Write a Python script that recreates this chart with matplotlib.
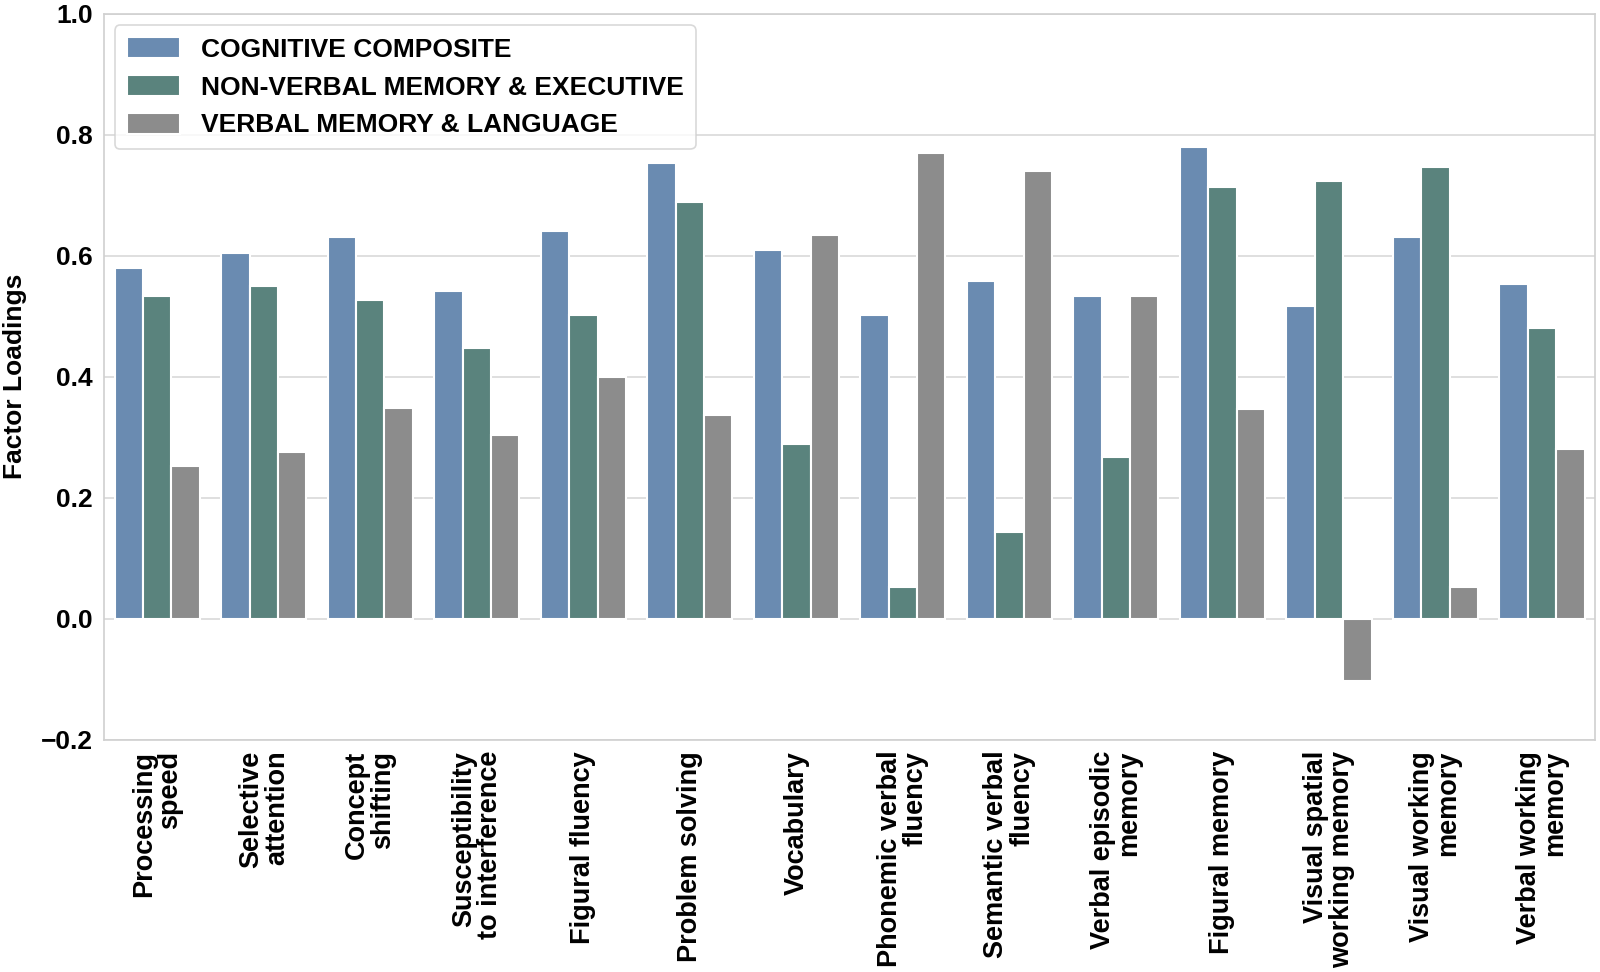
import numpy as np
import matplotlib
matplotlib.use('Agg')
import matplotlib.pyplot as plt

# 数据
categories = ['Processing\nspeed', 'Selective\nattention', 'Concept\nshifting',
              'Susceptibility\nto interference', 'Figural fluency', 'Problem solving',
              'Vocabulary', 'Phonemic verbal\nfluency', 'Semantic verbal\nfluency',
              'Verbal episodic\nmemory', 'Figural memory', 'Visual spatial\nworking memory',
              'Visual working\nmemory', 'Verbal working\nmemory']
series_names = ['COGNITIVE COMPOSITE', 'NON-VERBAL MEMORY & EXECUTIVE', 'VERBAL MEMORY & LANGUAGE']
cognitive = [0.580, 0.605, 0.630, 0.541, 0.640, 0.753, 0.610, 0.502, 0.558, 0.534, 0.779, 0.517, 0.630, 0.553]
nonverbal = [0.533, 0.549, 0.526, 0.448, 0.502, 0.689, 0.288, 0.052, 0.143, 0.268, 0.713, 0.723, 0.747, 0.480]
verbal = [0.253, 0.276, 0.349, 0.303, 0.399, 0.337, 0.634, 0.770, 0.740, 0.534, 0.347, -0.103, 0.052, 0.280]
colors = ['#6a8bb1', '#5a837d', '#8c8c8c']

plt.rcParams['font.family'] = ['Liberation Sans', 'DejaVu Sans']

fig = plt.figure(figsize=(16, 9.72), dpi=100)
ax = fig.add_axes([0.065, 0.239, 0.932, 0.747])

x = np.arange(len(categories))
w = 0.8 / 3
for i, (vals, name) in enumerate(zip([cognitive, nonverbal, verbal], series_names)):
    ax.bar(x + (i - 1) * w, vals, width=w, color=colors[i], edgecolor='white',
           linewidth=1.5, label=name, zorder=2)

ax.set_xlim(-0.5, len(categories) - 0.5)
ax.set_ylim(-0.2, 1.0)
ax.set_yticks([-0.2, 0.0, 0.2, 0.4, 0.6, 0.8, 1.0])
ax.set_yticklabels(['\u22120.2', '0.0', '0.2', '0.4', '0.6', '0.8', '1.0'],
                   fontsize=19, fontweight='bold')
ax.set_xticks(x)
ax.set_xticklabels(categories, rotation=90, fontsize=19.5, fontweight='bold',
                   ha='center', va='top', multialignment='right', linespacing=1.0)
ax.tick_params(axis='both', length=0, pad=8)
ax.yaxis.grid(True, color='#d9d9d9', linewidth=1.2, zorder=0)
ax.set_axisbelow(True)
for s in ax.spines.values():
    s.set_color('#d0d0d0')
    s.set_linewidth(1.2)

ax.set_ylabel('Factor Loadings', fontsize=19, fontweight='bold', labelpad=10)

leg = ax.legend(loc='upper left', bbox_to_anchor=(0.0075, 0.984), frameon=True,
                prop={'weight': 'bold', 'size': 19}, borderaxespad=0,
                handlelength=2.0, handleheight=0.85, handletextpad=0.8,
                labelspacing=0.5, borderpad=0.45, fancybox=True)
leg.get_frame().set_edgecolor('#d0d0d0')
leg.get_frame().set_linewidth(1.2)

fig.savefig('out.png', dpi=100)
